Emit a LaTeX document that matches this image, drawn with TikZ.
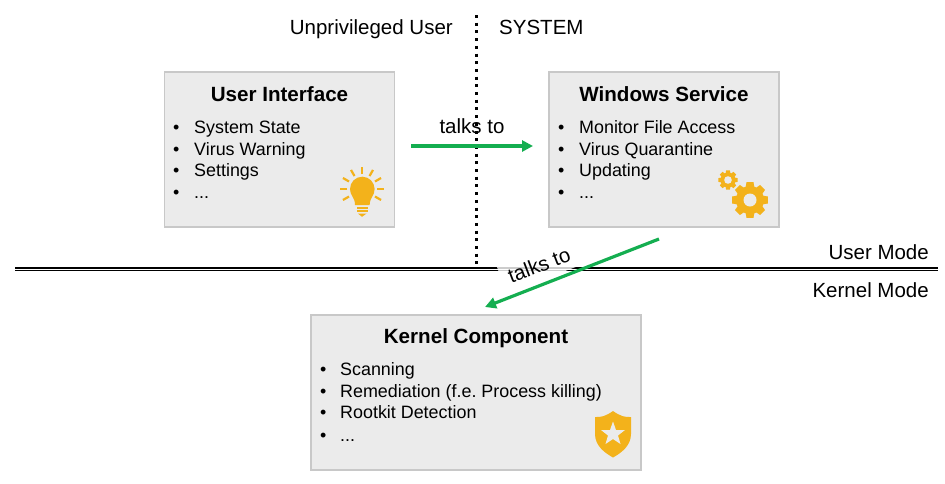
\documentclass[tikz,border=0pt]{standalone}
\usepackage{fontspec}
\setmainfont{Liberation Sans}
\usepackage{tikz}
\usetikzlibrary{positioning,calc,arrows.meta}
\definecolor{BoxGray}{RGB}{235,235,235}
\definecolor{BoxEdge}{RGB}{200,200,200}
\definecolor{TalkGreen}{RGB}{20,174,80}
\definecolor{IconGold}{RGB}{243,178,27}

\begin{document}
\frenchspacing
\begin{tikzpicture}[x=1pt,y=-1pt]
	\tikzset{
		panel/.style={draw=BoxEdge, line width=1.2pt, fill=BoxGray, minimum width=230pt, minimum height=155pt, inner sep=0pt},
		title/.style={font=\fontsize{20.6}{24}\selectfont\bfseries, inner sep=0pt, anchor=base},
		item/.style={font=\fontsize{17.9}{20}\selectfont, inner sep=0pt, anchor=base west},
		tag/.style={font=\fontsize{20.5}{24}\selectfont, inner sep=0pt, anchor=base},
		talk/.style={draw=TalkGreen, line width=3.2pt, -{Triangle[length=11pt,width=11pt]}},
		icon/.style={fill=IconGold, draw=none},
		ray/.style={draw=IconGold, line width=2.2pt}
	}
	\useasboundingbox (0,0) rectangle (945,483);

	\node[panel] (ui) at (279.5,149.5) {};
	\node[panel] (ws) at (664,149.5) {};
	\node[panel, minimum width=330pt] (kc) at (476,392.5) {};

	\coordinate (sepTop) at (476,15);
	\coordinate (sepBot) at (476,266);
	\draw[line width=3pt, dash pattern=on 3pt off 4.7pt] (sepTop)--(sepBot);

	\coordinate (modeL) at (15,269);
	\coordinate (modeR) at (938,269);
	\draw[line width=4pt] (modeL)--(modeR);
	\draw[white, line width=0.7pt] (modeL)--(modeR);

	\node[tag, anchor=base east] (lblUser) at (453,34) {Unprivileged User};
	\node[tag, anchor=base west] (lblSys) at (499,34) {SYSTEM};
	\node[tag, anchor=base east] (lblUm) at (929,259) {User Mode};
	\node[tag, anchor=base east] (lblKm) at (929,297) {Kernel Mode};

	\node[title] (uiTitle) at (279.5,101) {User Interface};
	\node[title] (wsTitle) at (664,101) {Windows Service};
	\node[title] (kcTitle) at (476,343) {Kernel Component};

	\node[item] (ub1) at (173,133) {•};
	\node[item] (ub2) at (173,155) {•};
	\node[item] (ub3) at (173,176) {•};
	\node[item] (ub4) at (173,198) {•};
	\node[item] (ut1) at (194,133) {System State};
	\node[item] (ut2) at (194,155) {Virus Warning};
	\node[item] (ut3) at (194,176) {Settings};
	\node[item] (ut4) at (194,198) {...};

	\node[item] (wb1) at (558,133) {•};
	\node[item] (wb2) at (558,155) {•};
	\node[item] (wb3) at (558,176) {•};
	\node[item] (wb4) at (558,198) {•};
	\node[item] (wt1) at (579,133) {Monitor File Access};
	\node[item] (wt2) at (579,155) {Virus Quarantine};
	\node[item] (wt3) at (579,176) {Updating};
	\node[item] (wt4) at (579,198) {...};

	\node[item] (kb1) at (320,375) {•};
	\node[item] (kb2) at (320,397) {•};
	\node[item] (kb3) at (320,418) {•};
	\node[item] (kb4) at (320,441) {•};
	\node[item] (kt1) at (340,375) {Scanning};
	\node[item] (kt2) at (340,397) {Remediation (f.e. Process killing)};
	\node[item] (kt3) at (340,418) {Rootkit Detection};
	\node[item] (kt4) at (340,441) {...};

	% light bulb
	\foreach \a in {-30,0,30,60,90,120,150,180,210}
		\draw[ray] ($(362,189)+(\a:-15)$)--($(362,189)+(\a:-22)$);
	\fill[icon] (355,205) .. controls (355,197) and (350,196) .. (350,189)
		arc[start angle=180, end angle=360, radius=12.3]
		.. controls (374.6,196) and (370,197) .. (369.6,205) -- cycle;
	\fill[icon] (356.5,207.2) rectangle (368,209);
	\fill[icon] (356.5,210.4) rectangle (368,212.2);
	\fill[icon] (358,213.6) -- (366.5,213.6) -- (362,216.8) -- cycle;

	% gears
	\fill[icon] (750,200) circle (14);
	\foreach \a in {0,45,...,315}
		\fill[icon, rotate around={\a:(750,200)}] (745.5,188) -- (746.5,182.2) -- (753.5,182.2) -- (754.5,188) -- cycle;
	\fill[BoxGray] (750,200) circle (6.5);
	\fill[icon] (728,180) circle (7.4);
	\foreach \a in {0,45,...,315}
		\fill[icon, rotate around={\a:(728,180)}] (725.5,174) -- (726.1,170.3) -- (729.9,170.3) -- (730.5,174) -- cycle;
	\fill[BoxGray] (728,180) circle (3.8);

	% shield
	\fill[icon] (613,411) .. controls (606,416) and (601,417.5) .. (595,417)
		-- (595,434) .. controls (595,446) and (605,453) .. (613,457.5)
		.. controls (621,453) and (631,446) .. (631,434) -- (631,417)
		.. controls (625,417.5) and (620,416) .. (613,411) -- cycle;
	\fill[BoxGray] (613,421.5) -- (616,430) -- (625,430) -- (618,435.5) -- (620.5,444)
		-- (613,439) -- (605.5,444) -- (608,435.5) -- (601,430) -- (610,430) -- cycle;

	\coordinate (talkA) at (411,146);
	\coordinate (talkB) at (533,146);
	\coordinate (talkC) at (659,239);
	\coordinate (talkD) at (485,307);
	\draw[talk] (talkA)--(talkB);
	\node[tag] (talk1) at (472,133) {talks to};
	\node[tag, rotate=21, anchor=center, fill=white, fill opacity=0.8, text opacity=1, minimum height=30pt, minimum width=80pt] (talk2) at (539,265) {talks to};
	\draw[talk] (talkC)--(talkD);
\end{tikzpicture}
\end{document}
